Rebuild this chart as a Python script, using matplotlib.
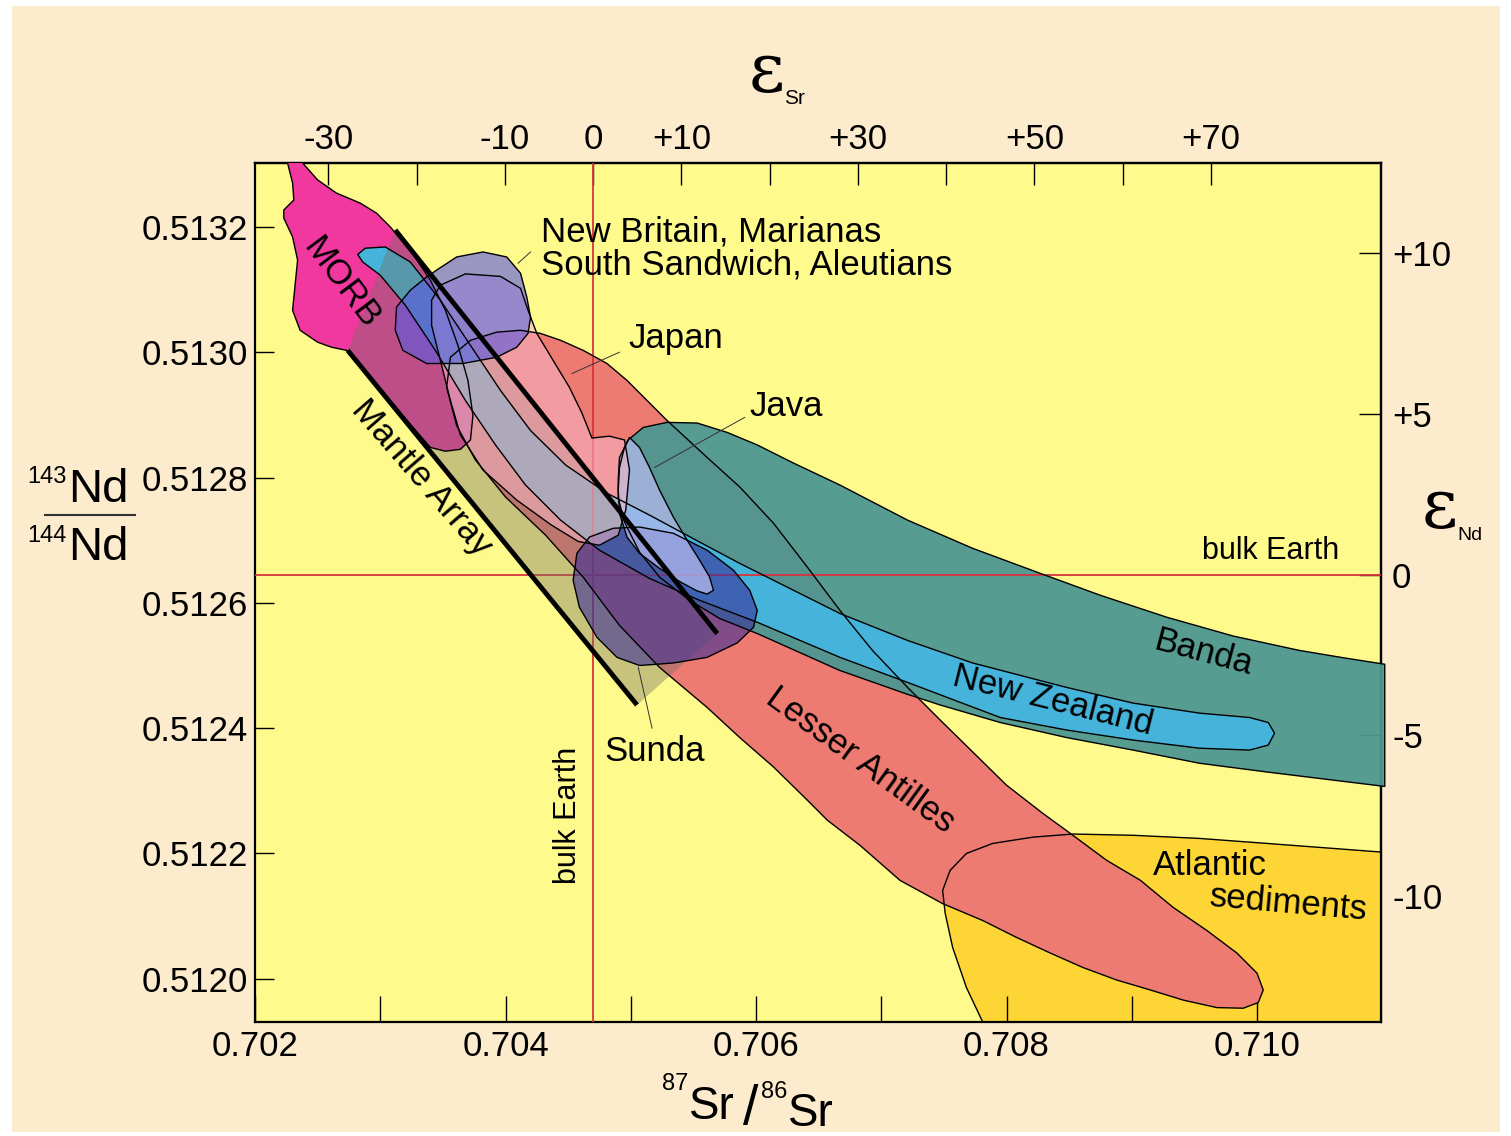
import matplotlib
matplotlib.use('Agg')
import matplotlib.pyplot as plt
from matplotlib.patches import Polygon, Rectangle
import numpy as np

plt.rcParams['font.family'] = ['Liberation Sans', 'DejaVu Sans']

# bulk Earth reference values
SR_BULK = 0.7047
ND_BULK = 0.512645

# ---- field outlines (87Sr/86Sr, 143Nd/144Nd) ----
morb_sr = [0.70223, 0.70242, 0.70238, 0.70250, 0.70265, 0.70284, 0.70297, 0.70308,
           0.70325, 0.70340, 0.70352, 0.70362, 0.70370, 0.70374, 0.70372, 0.70364,
           0.70352, 0.70340, 0.70273, 0.70261, 0.70250, 0.70236, 0.70230, 0.70232,
           0.70234, 0.70230, 0.70223, 0.70223, 0.70231, 0.70230, 0.70226]
morb_nd = [0.513322, 0.513322, 0.513302, 0.513275, 0.513254, 0.513238, 0.513222, 0.513200,
           0.513160, 0.513115, 0.513067, 0.513011, 0.512955, 0.512899, 0.512860, 0.512845,
           0.512842, 0.512848, 0.513003, 0.513008, 0.513016, 0.513035, 0.513067, 0.513107,
           0.513147, 0.513184, 0.513214, 0.513227, 0.513243, 0.513270, 0.513302]

# mantle array band: upper line, lower line
mantle_upper_sr = [0.70312, 0.70569]
mantle_upper_nd = [0.513195, 0.512551]
mantle_lower_sr = [0.70274, 0.70505]
mantle_lower_nd = [0.513003, 0.512437]

nz_sr = [0.70288, 0.70304, 0.70324, 0.70348, 0.70372, 0.70396, 0.70420, 0.70448,
         0.70481, 0.70515, 0.70555, 0.70587, 0.70667, 0.70721, 0.70773, 0.70848,
         0.70901, 0.70954, 0.70994, 0.71009, 0.71014, 0.71009, 0.70994, 0.70954,
         0.70901, 0.70848, 0.70795, 0.70721, 0.70667, 0.70601, 0.70555, 0.70515,
         0.70475, 0.70444, 0.70416, 0.70392, 0.70368, 0.70344, 0.70320, 0.70300,
         0.70286, 0.70282]
nz_nd = [0.513166, 0.513168, 0.513144, 0.513083, 0.513011, 0.512939, 0.512875, 0.512820,
         0.512775, 0.512740, 0.512697, 0.512663, 0.512583, 0.512540, 0.512504, 0.512465,
         0.512440, 0.512424, 0.512417, 0.512409, 0.512392, 0.512373, 0.512365, 0.512368,
         0.512381, 0.512397, 0.512417, 0.512473, 0.512513, 0.512569, 0.512604, 0.512639,
         0.512684, 0.512732, 0.512788, 0.512852, 0.512923, 0.513003, 0.513075, 0.513123,
         0.513144, 0.513156]

banda_sr = [0.70490, 0.70491, 0.70498, 0.70510, 0.70529, 0.70553, 0.70577, 0.70601,
            0.70630, 0.70667, 0.70721, 0.70773, 0.70827, 0.70875, 0.70928, 0.70981,
            0.71034, 0.71070, 0.71102, 0.71102, 0.71061, 0.71008, 0.70954, 0.70901,
            0.70848, 0.70795, 0.70747, 0.70721, 0.70667, 0.70601, 0.70571, 0.70547,
            0.70523, 0.70507, 0.70495, 0.70490]
banda_nd = [0.512796, 0.512832, 0.512860, 0.512880, 0.512888, 0.512887, 0.512872, 0.512852,
            0.512823, 0.512788, 0.512732, 0.512687, 0.512647, 0.512612, 0.512577, 0.512547,
            0.512524, 0.512512, 0.512502, 0.512307, 0.512317, 0.512330, 0.512344, 0.512365,
            0.512385, 0.512409, 0.512437, 0.512454, 0.512492, 0.512551, 0.512575, 0.512604,
            0.512641, 0.512681, 0.512729, 0.512767]

antilles_sr = [0.70353, 0.70356, 0.70372, 0.70393, 0.70412, 0.70428, 0.70444, 0.70462,
               0.70481, 0.70497, 0.70513, 0.70529, 0.70561, 0.70587, 0.70614, 0.70641,
               0.70667, 0.70693, 0.70721, 0.70747, 0.70773, 0.70800, 0.70829, 0.70853,
               0.70880, 0.70907, 0.70933, 0.70960, 0.70984, 0.71000, 0.71005, 0.71001,
               0.70989, 0.70968, 0.70941, 0.70915, 0.70888, 0.70861, 0.70835, 0.70808,
               0.70781, 0.70749, 0.70715, 0.70683, 0.70657, 0.70641, 0.70614, 0.70587,
               0.70561, 0.70523, 0.70491, 0.70462, 0.70432, 0.70400, 0.70376, 0.70361]
antilles_nd = [0.512944, 0.512992, 0.513019, 0.513032, 0.513035, 0.513030, 0.513019, 0.513003,
               0.512982, 0.512955, 0.512923, 0.512891, 0.512832, 0.512785, 0.512727, 0.512657,
               0.512588, 0.512524, 0.512465, 0.512413, 0.512362, 0.512309, 0.512264, 0.512229,
               0.512189, 0.512157, 0.512114, 0.512077, 0.512041, 0.512009, 0.511982, 0.511962,
               0.511953, 0.511954, 0.511966, 0.511982, 0.511998, 0.512018, 0.512041, 0.512066,
               0.512093, 0.512120, 0.512157, 0.512213, 0.512253, 0.512285, 0.512338, 0.512385,
               0.512433, 0.512497, 0.512564, 0.512641, 0.512708, 0.512769, 0.512828, 0.512883]

atlantic_sr = [0.70749, 0.70755, 0.70768, 0.70789, 0.70821, 0.70853, 0.70901, 0.70954,
               0.71008, 0.71061, 0.71114, 0.71114, 0.70787, 0.70781, 0.70768, 0.70757,
               0.70751]
atlantic_nd = [0.512141, 0.512173, 0.512200, 0.512216, 0.512226, 0.512231, 0.512229, 0.512224,
               0.512216, 0.512208, 0.512200, 0.511902, 0.511902, 0.511931, 0.511986, 0.512050,
               0.512105]

japan_sr = [0.70341, 0.70348, 0.70368, 0.70396, 0.70412, 0.70418, 0.70425, 0.70438,
            0.70451, 0.70461, 0.70469, 0.70483, 0.70495, 0.70499, 0.70496, 0.70490,
            0.70475, 0.70458, 0.70436, 0.70409, 0.70382, 0.70364, 0.70356, 0.70348,
            0.70341]
japan_nd = [0.513083, 0.513107, 0.513125, 0.513121, 0.513102, 0.513067, 0.513030, 0.512987,
            0.512944, 0.512903, 0.512863, 0.512866, 0.512860, 0.512812, 0.512748, 0.512708,
            0.512692, 0.512698, 0.512725, 0.512764, 0.512812, 0.512868, 0.512923, 0.512987,
            0.513043]

newbritain_sr = [0.70345, 0.70361, 0.70382, 0.70401, 0.70412, 0.70417, 0.70420, 0.70418,
                 0.70409, 0.70393, 0.70366, 0.70337, 0.70318, 0.70312, 0.70313, 0.70324,
                 0.70337]
newbritain_nd = [0.513131, 0.513152, 0.513160, 0.513152, 0.513126, 0.513088, 0.513056, 0.513030,
                 0.513008, 0.512992, 0.512982, 0.512982, 0.513003, 0.513035, 0.513072, 0.513099,
                 0.513120]

java_sr = [0.70499, 0.70507, 0.70515, 0.70523, 0.70534, 0.70545, 0.70555, 0.70563,
           0.70566, 0.70561, 0.70553, 0.70539, 0.70523, 0.70507, 0.70497, 0.70491,
           0.70490, 0.70491, 0.70495]
java_nd = [0.512864, 0.512848, 0.512816, 0.512780, 0.512737, 0.512700, 0.512668, 0.512641,
           0.512620, 0.512614, 0.512619, 0.512634, 0.512655, 0.512679, 0.512705, 0.512743,
           0.512780, 0.512816, 0.512848]

sunda_sr = [0.70457, 0.70467, 0.70486, 0.70507, 0.70534, 0.70561, 0.70582, 0.70595,
            0.70601, 0.70598, 0.70585, 0.70561, 0.70534, 0.70507, 0.70489, 0.70473,
            0.70459, 0.70454]
sunda_nd = [0.512679, 0.512705, 0.512719, 0.512721, 0.512711, 0.512684, 0.512652, 0.512620,
            0.512588, 0.512561, 0.512536, 0.512513, 0.512504, 0.512500, 0.512513, 0.512545,
            0.512593, 0.512636]

# leader lines (start, end)
leaders = {
    'newbritain': ([0.70410, 0.70420], [0.513142, 0.513160]),
    'japan': ([0.70453, 0.70491], [0.512966, 0.513000]),
    'java': ([0.70519, 0.70591], [0.512816, 0.512896]),
    'sunda': ([0.70506, 0.70517], [0.512497, 0.512400]),
}

# axis ticks
sr_ticks = [0.702, 0.703, 0.704, 0.705, 0.706, 0.707, 0.708, 0.709, 0.710]
sr_labels = ['0.702', '', '0.704', '', '0.706', '', '0.708', '', '0.710']
nd_ticks = [0.5120, 0.5122, 0.5124, 0.5126, 0.5128, 0.5130, 0.5132]
nd_labels = ['0.5120', '0.5122', '0.5124', '0.5126', '0.5128', '0.5130', '0.5132']
eps_sr_ticks = [-30, -20, -10, 0, 10, 20, 30, 40, 50, 60, 70]
eps_sr_labels = ['-30', '', '-10', '0', '+10', '', '+30', '', '+50', '', '+70']
eps_nd_ticks = [10, 5, 0, -5, -10]
eps_nd_labels = ['+10', '+5', '0', '-5', '-10']

W, H = 1511, 1136
fig = plt.figure(figsize=(W / 100, H / 100), dpi=100)
fig.patch.set_facecolor('white')
fig.patches.append(Rectangle((12 / W, 4 / H), 1488 / W, 1126 / H, transform=fig.transFigure,
                             fc='#FCEBCD', ec='none', zorder=-10))

ax = fig.add_axes([255 / W, 1 - 1022 / H, 1126 / W, 859 / H])
ax.set_facecolor('#FFFA8C')
ax.set_xlim(0.702, 0.71099)
ax.set_ylim(0.511931, 0.513302)


def field(sr, nd, color, alpha, z, clip=True):
    pts = np.column_stack([sr, nd])
    ax.add_patch(Polygon(pts, closed=True, fc=color, ec='none', alpha=alpha,
                         zorder=z, clip_on=clip))
    ax.add_patch(Polygon(pts, closed=True, fill=False, ec='black', lw=1.0,
                         zorder=11, clip_on=clip, joinstyle='round'))


field(atlantic_sr, atlantic_nd, '#FDD535', 1.0, 1)
field(antilles_sr, antilles_nd, '#EE7B72', 1.0, 2)
field(banda_sr, banda_nd, '#4E9791', 0.95, 3, clip=False)
field(morb_sr, morb_nd, '#F0389E', 1.0, 4)
field(nz_sr, nz_nd, '#46B4DA', 1.0, 5)

# mantle array band
band = np.column_stack([mantle_upper_sr + mantle_lower_sr[::-1],
                        mantle_upper_nd + mantle_lower_nd[::-1]])
ax.add_patch(Polygon(band, closed=True, fc='#757066', ec='none', alpha=0.4, zorder=6))

ax.axvline(SR_BULK, color='#D8343C', lw=1.3, zorder=5.5)
ax.axhline(ND_BULK, color='#D8343C', lw=1.3, zorder=5.5)

field(sunda_sr, sunda_nd, '#3A2E9A', 0.6, 7)
field(java_sr, java_nd, '#B4B8EC', 0.75, 8)
field(japan_sr, japan_nd, '#F6B8C8', 0.55, 9)
field(newbritain_sr, newbritain_nd, '#5A5AE0', 0.62, 10)

ax.plot(mantle_upper_sr, mantle_upper_nd, color='black', lw=3.5, zorder=12,
        solid_capstyle='butt')
ax.plot(mantle_lower_sr, mantle_lower_nd, color='black', lw=3.5, zorder=12,
        solid_capstyle='butt')

for xs, ys in leaders.values():
    ax.plot(xs, ys, color='#333333', lw=0.7, zorder=12)

# field labels
lab = dict(fontsize=25, color='black', zorder=13)
ax.text(0.70428, 0.513192, 'New Britain, Marianas', ha='left', va='center', **lab)
ax.text(0.70428, 0.513140, 'South Sandwich, Aleutians', ha='left', va='center', **lab)
ax.text(0.70498, 0.513022, 'Japan', ha='left', va='center', **lab)
ax.text(0.70595, 0.512914, 'Java', ha='left', va='center', **lab)
ax.text(0.70479, 0.512363, 'Sunda', ha='left', va='center', **lab)
ax.text(0.70269, 0.513110, 'MORB', ha='center', va='center', rotation=-53,
        rotation_mode='anchor', **lab)
ax.text(0.70333, 0.512799, 'Mantle Array', ha='center', va='center', rotation=-49,
        rotation_mode='anchor', **lab)
ax.text(0.70683, 0.512349, 'Lesser Antilles', ha='center', va='center', rotation=-36,
        rotation_mode='anchor', **lab)
ax.text(0.70837, 0.512444, 'New Zealand', ha='center', va='center', rotation=-14,
        rotation_mode='anchor', **lab)
ax.text(0.70957, 0.512521, 'Banda', ha='center', va='center', rotation=-15,
        rotation_mode='anchor', **lab)
ax.text(0.70917, 0.512180, 'Atlantic', ha='left', va='center', **lab)
ax.text(0.71025, 0.512120, 'sediments', ha='center', va='center', rotation=-5,
        rotation_mode='anchor', **lab)
ax.text(0.71066, 0.512682, 'bulk Earth', ha='right', va='center', fontsize=22, zorder=13)
ax.text(0.70450, 0.512261, 'bulk Earth', ha='center', va='center', rotation=90,
        fontsize=22, zorder=13)

# axes, ticks
for sp in ax.spines.values():
    sp.set_linewidth(1.6)
ax.set_xticks(sr_ticks, labels=sr_labels)
ax.set_yticks(nd_ticks, labels=nd_labels)
ax.tick_params(axis='x', direction='in', length=19, width=1.0, pad=6, labelsize=25)
ax.tick_params(axis='y', direction='in', length=14, width=1.0, pad=5, labelsize=25)


def sr_to_eps(x):
    return (np.asarray(x) / SR_BULK - 1) * 1e4


def eps_to_sr(e):
    return SR_BULK * (1 + np.asarray(e) / 1e4)


def nd_to_eps(y):
    return (np.asarray(y) / ND_BULK - 1) * 1e4


def eps_to_nd(e):
    return ND_BULK * (1 + np.asarray(e) / 1e4)


top = ax.secondary_xaxis('top', functions=(sr_to_eps, eps_to_sr))
top.set_xticks(eps_sr_ticks, labels=eps_sr_labels)
top.tick_params(direction='in', length=16, width=1.0, pad=5, labelsize=25)
top.spines['top'].set_linewidth(1.6)

right = ax.secondary_yaxis('right', functions=(nd_to_eps, eps_to_nd))
right.set_yticks(eps_nd_ticks, labels=eps_nd_labels)
right.tick_params(direction='in', length=16, width=1.0, pad=8, labelsize=25)
right.spines['right'].set_linewidth(1.6)


# axis titles
def ftext(px, py, s, **kw):
    fig.text(px / W, 1 - py / H, s, **kw)


ftext(767, 92, 'ε', fontsize=50, family='DejaVu Serif', ha='center', va='baseline')
ftext(784, 104, 'Sr', fontsize=15, ha='left', va='baseline')
ftext(1440, 528, 'ε', fontsize=50, family='DejaVu Serif', ha='center', va='baseline')
ftext(1457, 540, 'Nd', fontsize=14, ha='left', va='baseline')

ftext(67, 483, '143', fontsize=17, ha='right', va='baseline')
ftext(68, 502, 'Nd', fontsize=34, ha='left', va='baseline')
ftext(67, 542, '144', fontsize=17, ha='right', va='baseline')
ftext(68, 560, 'Nd', fontsize=34, ha='left', va='baseline')
fig.add_artist(plt.Line2D([45 / W, 135 / W], [1 - 515 / H, 1 - 515 / H], color='#333333', lw=1.5))

ftext(688, 1090, '87', fontsize=17, ha='right', va='baseline')
ftext(689, 1119, 'Sr', fontsize=33, ha='left', va='baseline')
ftext(751, 1124, '/', fontsize=40, ha='center', va='baseline')
ftext(787, 1098, '86', fontsize=17, ha='right', va='baseline')
ftext(788, 1126, 'Sr', fontsize=33, ha='left', va='baseline')

fig.savefig('out.png', dpi=100, facecolor=fig.get_facecolor())
